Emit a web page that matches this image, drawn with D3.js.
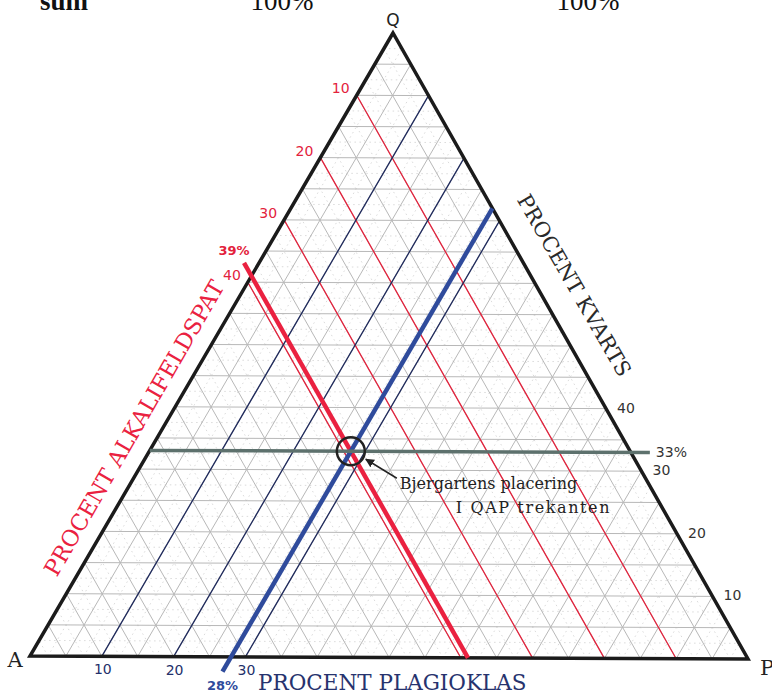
<!DOCTYPE html>
<html><head><meta charset="utf-8">
<script src="https://cdn.jsdelivr.net/npm/d3@7"></script>
<style>body{margin:0;background:#fff}svg{display:block}</style>
</head><body>
<svg id="c" width="772" height="693"></svg>
<script>
// ---- data ----
const vertexLabels = ["Q", "A", "P"];
const qTicks = [10, 20, 30, 40];      // PROCENT KVARTS (right edge)
const aTicks = [10, 20, 30, 40];      // PROCENT ALKALIFELDSPAT (left edge, red lines)
const pTicks = [10, 20, 30];          // PROCENT PLAGIOKLAS (bottom, blue lines)
const sampleQ = 33, sampleA = 39, sampleP = 28;
const gridMajor = d3.range(5, 100, 5);
const gridMinor = d3.range(2.5, 100, 5);
const headerTexts = ["sum", "100%", "100%"];

// ---- layout ----
const svg = d3.select("#c");
const V = {Q: [393, 33], A: [30, 656], P: [748, 659]};
const f = d3.scaleLinear().domain([0, 100]).range([0, 1]);
function pt(q, a, p) {
  const s = f(q) + f(a) + f(p);
  const wq = f(q) / s, wa = f(a) / s, wp = f(p) / s;
  return [wq * V.Q[0] + wa * V.A[0] + wp * V.P[0], wq * V.Q[1] + wa * V.A[1] + wp * V.P[1]];
}
const line = d3.line();
function ext(p0, p1, d0, d1) {
  const dx = p1[0] - p0[0], dy = p1[1] - p0[1], L = Math.hypot(dx, dy);
  const ux = dx / L, uy = dy / L;
  return [[p0[0] - ux * d0, p0[1] - uy * d0], [p1[0] + ux * d1, p1[1] + uy * d1]];
}

// grid
const gGrid = svg.append("g");
function family(vals, color, w, dash) {
  vals.forEach(v => {
    const segs = [
      [pt(v, 100 - v, 0), pt(v, 0, 100 - v)],
      [pt(0, v, 100 - v), pt(100 - v, v, 0)],
      [pt(0, 100 - v, v), pt(100 - v, 0, v)]
    ];
    segs.forEach(s => gGrid.append("path").attr("d", line(s))
      .attr("stroke", color).attr("stroke-width", w).attr("fill", "none")
      .attr("stroke-dasharray", dash));
  });
}
family(gridMinor, "#d6d6d6", 0.9, "1.5,3.5");
family(gridMajor, "#b8b8b8", 1, null);

// red thin lines (constant A)
aTicks.forEach(a => {
  svg.append("path").attr("d", line([pt(100 - a, a, 0), pt(0, a, 100 - a)]))
    .attr("stroke", "#e3223c").attr("stroke-width", 1.3).attr("fill", "none");
});
// blue thin lines (constant P)
pTicks.forEach(p => {
  svg.append("path").attr("d", line([pt(0, 100 - p, p), pt(100 - p, 0, p)]))
    .attr("stroke", "#1f2a5c").attr("stroke-width", 1.3).attr("fill", "none");
});

// triangle
svg.append("path").attr("d", line([V.Q, V.A, V.P]) + "Z")
  .attr("fill", "none").attr("stroke", "#1b1b1b").attr("stroke-width", 3.5).attr("stroke-linejoin", "miter");

// thick sample lines
svg.append("path").attr("d", line(ext(pt(100 - sampleA, sampleA, 0), pt(0, sampleA, 100 - sampleA), 15, 0)))
  .attr("stroke", "#ea2140").attr("stroke-width", 4.5).attr("fill", "none");
svg.append("path").attr("d", line(ext(pt(100 - sampleP, 0, sampleP), pt(0, 100 - sampleP, sampleP), 0, 17)))
  .attr("stroke", "#2f4b9c").attr("stroke-width", 4.5).attr("fill", "none");
svg.append("path").attr("d", line(ext(pt(sampleQ, 100 - sampleQ, 0), pt(sampleQ, 0, 100 - sampleQ), 0, 19)))
  .attr("stroke", "#5d716d").attr("stroke-width", 3.5).attr("fill", "none");

// circle at sample
const S = pt(sampleQ, sampleA, sampleP);
svg.append("circle").attr("cx", S[0]).attr("cy", S[1]).attr("r", 14)
  .attr("fill", "none").attr("stroke", "#222").attr("stroke-width", 2.5);

// arrow
svg.append("defs").append("marker").attr("id", "ah").attr("viewBox", "0 0 10 10")
  .attr("refX", 9).attr("refY", 5).attr("markerWidth", 9).attr("markerHeight", 9)
  .attr("orient", "auto").attr("markerUnits", "userSpaceOnUse")
  .append("path").attr("d", "M0,0L10,5L0,10z").attr("fill", "#222");
svg.append("path").attr("d", line([[S[0] + 46, S[1] + 27], [S[0] + 15, S[1] + 8]]))
  .attr("stroke", "#222").attr("stroke-width", 1.5).attr("marker-end", "url(#ah)");

const serif = "'DejaVu Serif', serif";
const sans = "'DejaVu Sans', sans-serif";

svg.append("text").attr("x", S[0] + 49).attr("y", S[1] + 38).text("Bjergartens placering")
  .attr("font-family", serif).attr("font-size", 16).attr("fill", "#222");
svg.append("text").attr("x", S[0] + 105).attr("y", S[1] + 62).text("I QAP trekanten")
  .attr("font-family", serif).attr("font-size", 16).attr("letter-spacing", 1.6).attr("fill", "#222");

// header (cut off at top as in the reference)
svg.append("text").attr("x", 40).attr("y", 10).text(headerTexts[0])
  .attr("font-family", "'Liberation Serif', serif").attr("font-weight", "bold").attr("font-size", 27).attr("fill", "#111");
[[282, headerTexts[1]], [588, headerTexts[2]]].forEach(([x, t]) =>
  svg.append("text").attr("x", x).attr("y", 10).attr("text-anchor", "middle").text(t)
    .attr("font-family", "'Liberation Serif', serif").attr("font-size", 27).attr("fill", "#111"));

// vertex labels
svg.append("text").attr("x", 393).attr("y", 26).attr("text-anchor", "middle").text(vertexLabels[0])
  .attr("font-family", sans).attr("font-size", 17).attr("fill", "#222");
svg.append("text").attr("x", 15).attr("y", 667).attr("text-anchor", "middle").text(vertexLabels[1])
  .attr("font-family", serif).attr("font-size", 21).attr("fill", "#222");
svg.append("text").attr("x", 760).attr("y", 675).text(vertexLabels[2])
  .attr("font-family", serif).attr("font-size", 21).attr("fill", "#222");

// tick labels
aTicks.forEach(a => {
  const p = pt(100 - a, a, 0);
  svg.append("text").attr("x", p[0] - 7).attr("y", p[1] - 2).attr("text-anchor", "end").text(a)
    .attr("font-family", sans).attr("font-size", 14).attr("fill", "#e3223c");
});
pTicks.forEach(v => {
  const p = pt(0, 100 - v, v);
  svg.append("text").attr("x", p[0] + 1).attr("y", p[1] + 18).attr("text-anchor", "middle").text(v)
    .attr("font-family", sans).attr("font-size", 14).attr("fill", "#23306a");
});
qTicks.forEach(q => {
  const p = pt(q, 0, 100 - q);
  svg.append("text").attr("x", p[0] + 20).attr("y", p[1] + 4).attr("text-anchor", "middle").text(q)
    .attr("font-family", sans).attr("font-size", 14).attr("fill", "#333");
});

// percent labels for sample
const aTop = ext(pt(100 - sampleA, sampleA, 0), pt(0, sampleA, 100 - sampleA), 15, 0)[0];
svg.append("text").attr("x", aTop[0] - 10).attr("y", aTop[1] - 8).attr("text-anchor", "middle").text(sampleA + "%")
  .attr("font-family", sans).attr("font-weight", "bold").attr("font-size", 13).attr("fill", "#e3223c");
const pBot = ext(pt(100 - sampleP, 0, sampleP), pt(0, 100 - sampleP, sampleP), 0, 17)[1];
svg.append("text").attr("x", pBot[0]).attr("y", pBot[1] + 18).attr("text-anchor", "middle").text(sampleP + "%")
  .attr("font-family", sans).attr("font-weight", "bold").attr("font-size", 13).attr("fill", "#2f4b9c");
const qEnd = ext(pt(sampleQ, 100 - sampleQ, 0), pt(sampleQ, 0, 100 - sampleQ), 0, 19)[1];
svg.append("text").attr("x", qEnd[0] + 6).attr("y", qEnd[1] + 5).text(sampleQ + "%")
  .attr("font-family", sans).attr("font-size", 14).attr("fill", "#333");

// axis titles
svg.append("text").attr("transform", "translate(141,432) rotate(-60)").attr("text-anchor", "middle")
  .text("PROCENT ALKALIFELDSPAT").attr("font-family", serif).attr("font-size", 22.5).attr("fill", "#ea2140");
svg.append("text").attr("transform", "translate(568,289) rotate(60)").attr("text-anchor", "middle")
  .text("PROCENT KVARTS").attr("font-family", serif).attr("font-size", 21).attr("fill", "#2a2a2a");
svg.append("text").attr("x", 258).attr("y", 690)
  .text("PROCENT PLAGIOKLAS").attr("font-family", serif).attr("font-size", 21.5).attr("fill", "#27336e");
</script>
</body></html>
